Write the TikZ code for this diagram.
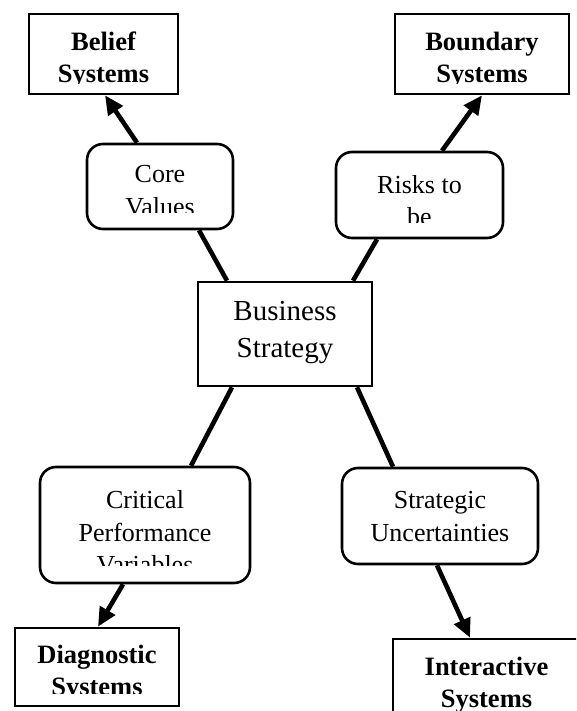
\documentclass[tikz,border=0pt]{standalone}
\usepackage{fontspec}
\setmainfont{Liberation Serif}
\usetikzlibrary{arrows.meta}
\tikzset{
  sysbox/.style={draw, line width=2.6pt, rectangle, inner sep=0pt, fill=white},
  valbox/.style={draw, line width=2.6pt, rectangle, rounded corners=16pt, inner sep=0pt, fill=white},
  centbox/.style={draw, line width=2.6pt, rectangle, inner sep=0pt, fill=white},
  conn/.style={line width=4.6pt},
  arr/.style={line width=4.6pt, -{Triangle[length=19pt,width=17pt]}},
  systxt/.style={font=\fontsize{26.5}{32}\selectfont\bfseries, align=center, anchor=base, inner sep=0pt},
  valtxt/.style={font=\fontsize{26}{32.7}\selectfont, align=center, anchor=base, inner sep=0pt},
  centtxt/.style={font=\fontsize{29}{36.7}\selectfont, align=center, anchor=base, inner sep=0pt}
}
\begin{document}
\begin{tikzpicture}[x=1pt, y=-1pt]
\useasboundingbox (0,0) rectangle (576,711);
\begin{scope}
\clip (0,0) rectangle (576,711);
% boxes
\node[sysbox, minimum width=149pt, minimum height=80pt] (belief) at (103.5,54) {};
\node[sysbox, minimum width=174pt, minimum height=80pt] (boundary) at (482,54) {};
\node[valbox, minimum width=146pt, minimum height=85pt] (core) at (160,186.5) {};
\node[valbox, minimum width=167pt, minimum height=86pt] (risks) at (419.5,195) {};
\node[centbox, minimum width=174pt, minimum height=104pt] (bs) at (285,334) {};
\node[valbox, minimum width=210pt, minimum height=116pt] (crit) at (145,525) {};
\node[valbox, minimum width=196pt, minimum height=96pt] (strat) at (440,516) {};
\node[sysbox, minimum width=164pt, minimum height=78pt] (diag) at (97,667) {};
\node[sysbox, minimum width=187pt, minimum height=80pt] (inter) at (486.5,679) {};
% connectors
\draw[conn] ([xshift=39pt]core.south) -- ([xshift=-58pt]bs.north);
\draw[arr] ([xshift=-23pt]core.north) -- ([xshift=1.5pt]belief.south);
\draw[conn] ([xshift=-42.5pt]risks.south) -- ([xshift=68pt]bs.north);
\draw[arr] ([xshift=22.5pt]risks.north) -- (boundary.south);
\draw[conn] ([xshift=-53pt]bs.south) -- ([xshift=46pt]crit.north);
\draw[conn] ([xshift=72pt]bs.south) -- ([xshift=-47pt]strat.north);
\draw[arr] ([xshift=-22pt]crit.south) -- ([xshift=1pt]diag.north);
\draw[arr] ([xshift=-3pt]strat.south) -- ([xshift=-16.5pt]inter.north);
% texts (clipped as in the original text boxes; base = last line)
\begin{scope}
\clip (29,14) rectangle (178,83.5);
\node[systxt] (belieftxt) at (103.5,82.7) {Belief\\Systems};
\end{scope}
\begin{scope}
\clip (395,14) rectangle (569,83.5);
\node[systxt] (boundarytxt) at (482,82.7) {Boundary\\Systems};
\end{scope}
\begin{scope}
\clip (87,144) rectangle (233,213);
\node[valtxt] (coretxt) at (160,215.4) {Core\\Values};
\end{scope}
\begin{scope}
\clip (336,152) rectangle (503,222);
\node[valtxt] (riskstxt) at (419.5,225.7) {Risks to\\be};
\end{scope}
\node[centtxt] (bstxt) at (285,357) {Business\\Strategy};
\begin{scope}
\clip (40,467) rectangle (250,565);
\node[valtxt] (crittxt) at (145,573.7) {Critical\\Performance\\Variables};
\end{scope}
\node[valtxt] (strattxt) at (440,541) {Strategic\\Uncertainties};
\begin{scope}
\clip (15,628) rectangle (179,693);
\node[systxt] (diagtxt) at (97,695) {Diagnostic\\Systems};
\end{scope}
\node[systxt] (intertxt) at (486.5,707) {Interactive\\Systems};
\end{scope}
\end{tikzpicture}
\end{document}
